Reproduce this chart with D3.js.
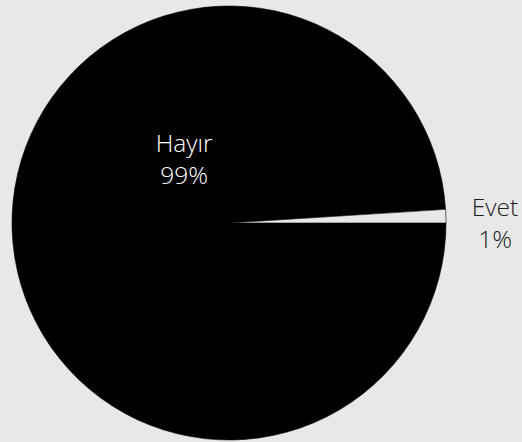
<!DOCTYPE html>
<html>
<head>
<meta charset="utf-8">
<script src="https://cdn.jsdelivr.net/npm/d3@7"></script>
<style>
  html, body { margin: 0; padding: 0; background: #e8e8e8; }
  svg { display: block; }
  text { font-family: "Open Sans", "Noto Sans", sans-serif; font-weight: 300; }
</style>
</head>
<body>
<svg id="chart" width="522" height="442"></svg>
<script>
// Answer categories and their shares (percent)
const categories = ["Hayır", "Evet"];
const values = [99, 1];
const fills = ["#000000", "#e8e8e8"];
const labelColors = ["#ffffff", "#1a1a1a"];

const width = 522, height = 442;
const cx = 229, cy = 223, radius = 217;

const svg = d3.select("#chart");
const g = svg.append("g").attr("transform", `translate(${cx},${cy})`);

const pie = d3.pie()
  .sort(null)
  .value(d => d.value)
  .startAngle(Math.PI / 2)
  .endAngle(Math.PI / 2 + 2 * Math.PI);

const data = categories.map((c, i) => ({ name: c, value: values[i], fill: fills[i], color: labelColors[i] }));
const arcs = pie(data);

const arc = d3.arc().innerRadius(0).outerRadius(radius);

g.selectAll("path.slice")
  .data(arcs)
  .join("path")
  .attr("class", "slice")
  .attr("d", arc)
  .attr("fill", d => d.data.fill)
  .attr("stroke", "#000")
  .attr("stroke-width", 0.6);

// Label anchors (first baseline): inner label up-left inside the large slice,
// outer label beside the thin slice
const labelPos = [
  { x: -0.207 * radius, y: -0.327 * radius },
  { x: 1.226 * radius, y: -0.032 * radius }
];

const labels = g.selectAll("text.label")
  .data(arcs)
  .join("text")
  .attr("class", "label")
  .attr("text-anchor", "middle")
  .attr("font-size", 24.5)
  .attr("fill", d => d.data.color)
  .attr("transform", (d, i) => `translate(${labelPos[i].x},${labelPos[i].y})`);

labels.append("tspan")
  .attr("x", 0)
  .attr("dy", 0)
  .text(d => d.data.name);

labels.append("tspan")
  .attr("x", 0)
  .attr("dy", "1.31em")
  .text(d => d3.format(".0f")(d.data.value) + "%");
</script>
</body>
</html>
